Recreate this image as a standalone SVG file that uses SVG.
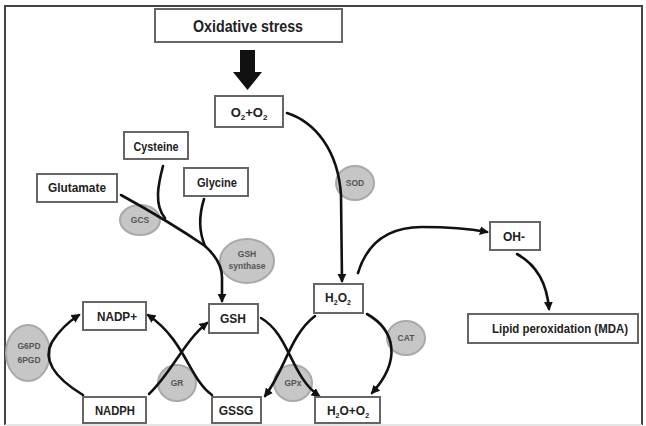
<svg xmlns="http://www.w3.org/2000/svg" width="646" height="426" viewBox="0 0 646 426">
<defs>
<marker id="ah" viewBox="0 0 10 10" refX="8" refY="5" markerWidth="9" markerHeight="9" markerUnits="userSpaceOnUse" orient="auto">
<path d="M0,0 L10,5 L0,10 z" fill="#111"/>
</marker>
</defs>
<style>
.box{fill:#fff;stroke:#666;stroke-width:2}
.enz{fill:#c6c6c6;stroke:#a9a9a9;stroke-width:2}
.t{font-family:"Liberation Sans",Arial,sans-serif;font-weight:bold;fill:#222;text-anchor:middle}
.e{font-family:"Liberation Sans",Arial,sans-serif;font-weight:bold;fill:#555;text-anchor:middle;font-size:8.5px}
.c{fill:none;stroke:#111;stroke-width:2.6;stroke-linecap:round}
.a{marker-end:url(#ah)}
</style>
<rect x="0" y="0" width="646" height="426" fill="#fff"/>
<path d="M5,425 V6 H642 V425" fill="none" stroke="#444" stroke-width="2"/>
<path d="M5,425 H642" fill="none" stroke="#ddd" stroke-width="1.5"/>

<g id="enzyme-gcs"><ellipse class="enz" cx="140" cy="220" rx="20" ry="15"/><text class="e" x="140" y="223">GCS</text></g>
<g id="enzyme-gsh-synthase"><ellipse class="enz" cx="247" cy="261" rx="27" ry="22"/><text class="e" x="247" y="257">GSH</text><text class="e" x="247" y="269" font-size="9">synthase</text></g>
<g id="enzyme-sod"><ellipse class="enz" cx="355" cy="183" rx="19" ry="17"/><text class="e" x="355" y="186">SOD</text></g>
<g id="enzyme-cat"><ellipse class="enz" cx="406" cy="338" rx="19" ry="17"/><text class="e" x="406" y="341">CAT</text></g>
<g id="enzyme-g6pd"><ellipse class="enz" cx="28" cy="353" rx="22" ry="28"/><text class="e" x="29" y="349" font-size="9">G6PD</text><text class="e" x="29" y="363" font-size="9">6PGD</text></g>
<g id="enzyme-gr"><ellipse class="enz" cx="177" cy="383" rx="19" ry="18"/><text class="e" x="177" y="386">GR</text></g>
<g id="enzyme-gpx"><ellipse class="enz" cx="293" cy="383" rx="19" ry="18"/><text class="e" x="293" y="386">GPx</text></g>

<g id="connectors">
<path d="M240,50 H255 V72 H262 L247.5,90 L233,72 H240 Z" fill="#111"/>
<path class="c a" d="M287,113 C315,122 338,150 341,195 L342,281"/>
<path class="c a" d="M358,273 C368,240 392,227 422,227 Q460,227 487,232"/>
<path class="c a" d="M517,254 Q546,270 549,309"/>
<path class="c a" d="M121,195 Q170,222 205,246 Q223,262 222,280 L222,301"/>
<path class="c" d="M163,166 C158,185 154,205 165,218"/>
<path class="c" d="M204,199 C199,215 199,232 205,246"/>
<path class="c a" d="M83,395 C55,378 42,360 52,342 Q62,326 79,315"/>
<path class="c a" d="M149,394 C170,375 185,340 207,323"/>
<path class="c a" d="M212,395 C190,380 185,340 148,315"/>
<path class="c a" d="M261,318 C290,335 290,375 319,396"/>
<path class="c a" d="M315,316 C290,335 285,370 265,396"/>
<path class="c a" d="M367,314 C395,330 402,360 372,393"/>
</g>

<g id="oxidative-stress"><rect class="box" x="155" y="9" width="187" height="33"/><text class="t" x="248" y="32" font-size="16" textLength="110" lengthAdjust="spacingAndGlyphs">Oxidative stress</text></g>
<g id="o2o2"><rect class="box" x="215" y="96" width="68" height="31"/><text class="t" x="249" y="117" font-size="13">O<tspan font-size="8" dy="3">2</tspan><tspan dy="-3">+O</tspan><tspan font-size="8" dy="3">2</tspan></text></g>
<g id="cysteine"><rect class="box" x="124" y="132" width="64" height="27"/><text class="t" x="156" y="151" font-size="12" textLength="45" lengthAdjust="spacingAndGlyphs">Cysteine</text></g>
<g id="glutamate"><rect class="box" x="37" y="174" width="80" height="28"/><text class="t" x="77" y="192" font-size="12" textLength="58" lengthAdjust="spacingAndGlyphs">Glutamate</text></g>
<g id="glycine"><rect class="box" x="184" y="168" width="64" height="28"/><text class="t" x="217" y="187" font-size="12" textLength="40" lengthAdjust="spacingAndGlyphs">Glycine</text></g>
<g id="oh"><rect class="box" x="490" y="222" width="50" height="28"/><text class="t" x="514" y="241" font-size="12">OH-</text></g>
<g id="lipid"><rect class="box" x="468" y="314" width="170" height="29"/><text class="t" x="560" y="333" font-size="12" textLength="136" lengthAdjust="spacingAndGlyphs">Lipid peroxidation (MDA)</text></g>
<g id="h2o2"><rect class="box" x="314" y="284" width="49" height="29"/><text class="t" x="338" y="302" font-size="12">H<tspan font-size="7" dy="3">2</tspan><tspan dy="-3">O</tspan><tspan font-size="7" dy="3">2</tspan></text></g>
<g id="h2oo2"><rect class="box" x="315" y="397" width="65" height="26"/><text class="t" x="348" y="415" font-size="12">H<tspan font-size="7" dy="3">2</tspan><tspan dy="-3">O+O</tspan><tspan font-size="7" dy="3">2</tspan></text></g>
<g id="nadp"><rect class="box" x="83" y="302" width="63" height="28"/><text class="t" x="117" y="321" font-size="12" textLength="40" lengthAdjust="spacingAndGlyphs">NADP+</text></g>
<g id="gsh"><rect class="box" x="209" y="304" width="49" height="29"/><text class="t" x="233" y="323" font-size="12">GSH</text></g>
<g id="nadph"><rect class="box" x="83" y="397" width="63" height="26"/><text class="t" x="115" y="415" font-size="12" textLength="40" lengthAdjust="spacingAndGlyphs">NADPH</text></g>
<g id="gssg"><rect class="box" x="212" y="397" width="49" height="26"/><text class="t" x="236" y="415" font-size="12">GSSG</text></g>
</svg>
